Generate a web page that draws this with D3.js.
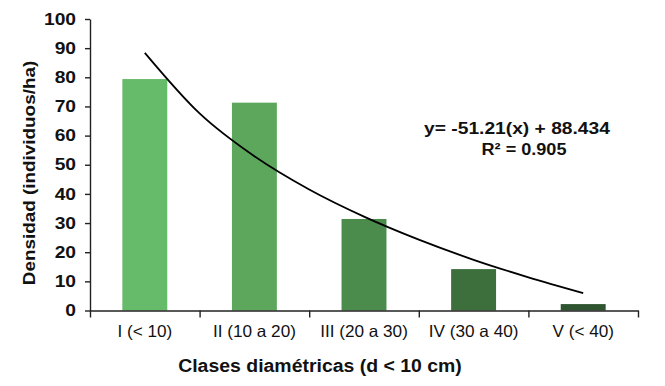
<!DOCTYPE html>
<html>
<head>
<meta charset="utf-8">
<script src="https://cdn.jsdelivr.net/npm/d3@7"></script>
<style>
  html, body { margin: 0; padding: 0; background: #fff; }
  svg { display: block; }
  text { font-family: "Liberation Sans", Arial, sans-serif; fill: #111; }
</style>
</head>
<body>
<svg id="chart" width="665" height="386"></svg>
<script>
// ---- data ----
const categories = ["I (< 10)", "II (10 a 20)", "III (20 a 30)", "IV (30 a 40)", "V (< 40)"];
const density = [79.4, 71.3, 31.4, 14.2, 2.2];
const barColors = ["#66bb6a", "#5ca75c", "#4b8b4b", "#3d6f3d", "#2e5530"];
const yTicks = [0, 10, 20, 30, 40, 50, 60, 70, 80, 90, 100];
// trend line (class index -> density)
const trendX = [1, 1.5, 2, 2.5, 3, 3.5, 4, 4.5, 5];
const trendY = [88.4, 67.6, 52.9, 41.5, 32.2, 24.3, 17.4, 11.4, 6.0];
const equation = "y= -51.21(x) + 88.434";
const r2Label = "R² = 0.905";
const xTitle = "Clases diamétricas (d < 10 cm)";
const yTitle = "Densidad (individuos/ha)";

// ---- layout ----
const svg = d3.select("#chart");
const mLeft = 90, mRight = 638, mTop = 19, mBottom = 310.5;

const y = d3.scaleLinear().domain([0, 100]).range([mBottom, mTop]);
const x = d3.scaleBand().domain(categories).range([mLeft, mRight])
  .paddingInner(0.59).paddingOuter(0.295);
const xEdge = d3.scaleLinear().domain([0, categories.length]).range([mLeft, mRight]);
const xLin = d3.scaleLinear().domain([0.5, categories.length + 0.5]).range([mLeft, mRight]);

function stretch(sel, f) {
  sel.each(function () {
    const w = this.getComputedTextLength();
    d3.select(this).attr("textLength", w * f).attr("lengthAdjust", "spacingAndGlyphs");
  });
}

// bars
svg.append("g").selectAll("rect")
  .data(categories)
  .join("rect")
  .attr("x", d => x(d))
  .attr("width", x.bandwidth())
  .attr("y", (d, i) => y(density[i]))
  .attr("height", (d, i) => y(0) - y(density[i]))
  .attr("fill", (d, i) => barColors[i]);

// y axis
const gy = svg.append("g").attr("transform", `translate(${mLeft},0)`)
  .call(d3.axisLeft(y).tickValues(yTicks).tickSize(5).tickPadding(9).tickSizeOuter(0));
gy.select(".domain").attr("stroke", "#222").attr("stroke-width", 1.4);
gy.selectAll(".tick line").attr("stroke", "#222").attr("stroke-width", 1.4);
gy.selectAll(".tick text").attr("font-size", 16).attr("font-weight", "bold")
  .attr("font-family", "Liberation Sans, Arial, sans-serif").attr("fill", "#111");
stretch(gy.selectAll(".tick text"), 1.2);

// x axis line + tick marks at band edges
const gx = svg.append("g").attr("transform", `translate(0,${mBottom})`)
  .call(d3.axisBottom(xEdge).tickValues(d3.range(0, categories.length + 1))
    .tickSize(7).tickSizeOuter(0).tickFormat(""));
gx.select(".domain").attr("stroke", "#222").attr("stroke-width", 1.4);
gx.selectAll(".tick line").attr("stroke", "#222").attr("stroke-width", 1.4);

// x labels
const gxl = svg.append("g").attr("transform", `translate(0,${mBottom})`)
  .call(d3.axisBottom(x).tickSize(0).tickPadding(15));
gxl.select(".domain").remove();
gxl.selectAll(".tick text").attr("font-size", 16.5)
  .attr("font-family", "Liberation Sans, Arial, sans-serif").attr("fill", "#111");
stretch(gxl.selectAll(".tick text"), 1.04);

// trend line
const line = d3.line().x(d => xLin(d[0])).y(d => y(d[1])).curve(d3.curveMonotoneX);
svg.append("path")
  .datum(trendX.map((v, i) => [v, trendY[i]]))
  .attr("d", line)
  .attr("fill", "none")
  .attr("stroke", "#000")
  .attr("stroke-width", 1.8);

// equation
const eq = svg.append("text").attr("x", 517).attr("y", 134).attr("text-anchor", "middle")
  .attr("font-size", 16).attr("font-weight", "bold").text(equation);
stretch(eq, 1.2);
const r2 = svg.append("text").attr("x", 524).attr("y", 155).attr("text-anchor", "middle")
  .attr("font-size", 16).attr("font-weight", "bold").text(r2Label);
stretch(r2, 1.13);

// axis titles
const xt = svg.append("text").attr("x", 320).attr("y", 372).attr("text-anchor", "middle")
  .attr("font-size", 18).attr("font-weight", "bold").text(xTitle);
stretch(xt, 1.08);
const yt = svg.append("text").attr("transform", "translate(35,173) rotate(-90)")
  .attr("text-anchor", "middle").attr("font-size", 17).attr("font-weight", "bold").text(yTitle);
stretch(yt, 1.11);
</script>
</body>
</html>
